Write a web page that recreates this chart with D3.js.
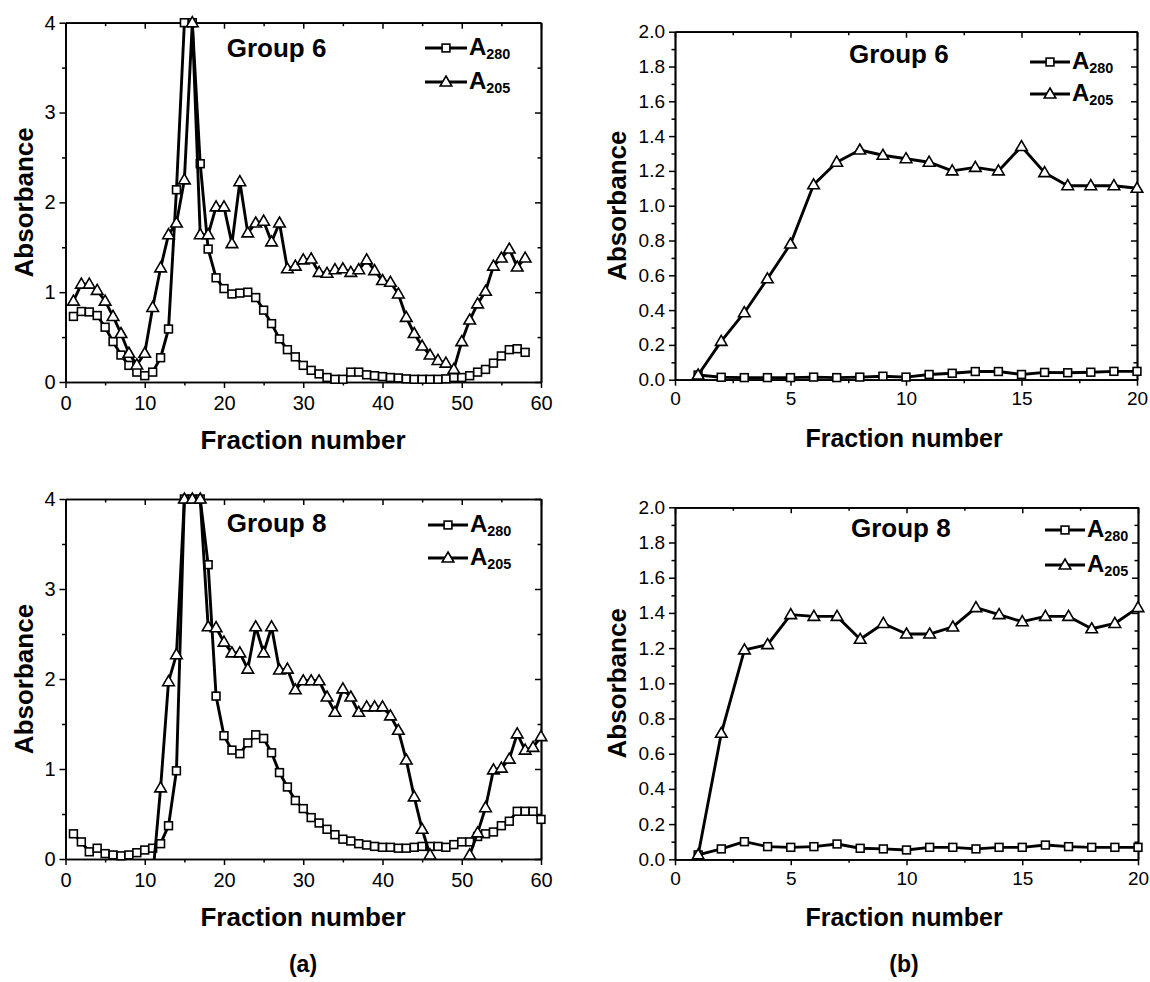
<!DOCTYPE html>
<html>
<head>
<meta charset="utf-8">
<script src="https://cdn.jsdelivr.net/npm/d3@7"></script>
<style>
body{margin:0;background:#fff;}
svg text{font-family:'Liberation Sans',Arial,sans-serif;fill:#000;}
</style>
</head>
<body>
<script>
// fraction numbers
var frac58 = [1,2,3,4,5,6,7,8,9,10,11,12,13,14,15,16,17,18,19,20,21,22,23,24,25,26,27,28,29,30,31,32,33,34,35,36,37,38,39,40,41,42,43,44,45,46,47,48,49,50,51,52,53,54,55,56,57,58];
var frac60 = [1,2,3,4,5,6,7,8,9,10,11,12,13,14,15,16,17,18,19,20,21,22,23,24,25,26,27,28,29,30,31,32,33,34,35,36,37,38,39,40,41,42,43,44,45,46,47,48,49,50,51,52,53,54,55,56,57,58,59,60];
var frac20 = [1,2,3,4,5,6,7,8,9,10,11,12,13,14,15,16,17,18,19,20];

// (a) group 6
var a6_280 = [0.73,0.785,0.78,0.74,0.61,0.45,0.30,0.185,0.11,0.07,0.11,0.27,0.59,2.14,4.0,4.0,2.43,1.48,1.16,1.04,0.98,0.99,1.0,0.94,0.80,0.65,0.48,0.36,0.28,0.185,0.13,0.09,0.05,0.03,0.03,0.11,0.11,0.08,0.07,0.06,0.05,0.045,0.035,0.03,0.03,0.03,0.03,0.035,0.05,0.05,0.07,0.11,0.14,0.21,0.29,0.36,0.37,0.33];
var a6_205 = [0.90,1.09,1.09,1.02,0.90,0.73,0.54,0.32,0.19,0.32,0.83,1.27,1.64,1.77,2.25,4.0,1.64,1.64,1.95,1.95,1.54,2.23,1.66,1.77,1.79,1.56,1.77,1.26,1.29,1.36,1.37,1.22,1.21,1.25,1.26,1.22,1.25,1.36,1.24,1.13,1.11,0.98,0.72,0.54,0.40,0.30,0.24,0.21,0.14,0.45,0.69,0.87,1.01,1.29,1.38,1.48,1.28,1.38];

// (a) group 8
var a8_280 = [0.28,0.19,0.08,0.12,0.06,0.045,0.035,0.045,0.07,0.10,0.12,0.17,0.37,0.98,4.0,4.0,4.0,3.27,1.81,1.37,1.21,1.17,1.29,1.38,1.34,1.18,0.96,0.80,0.65,0.56,0.46,0.40,0.33,0.27,0.22,0.20,0.17,0.155,0.14,0.13,0.13,0.12,0.12,0.13,0.14,0.14,0.14,0.13,0.16,0.19,0.19,0.25,0.28,0.30,0.37,0.42,0.53,0.53,0.53,0.44];
var a8_205 = [null,null,null,null,null,null,null,null,null,null,-0.2,0.79,1.97,2.27,4.0,4.0,4.0,2.58,2.57,2.41,2.29,2.29,2.11,2.58,2.29,2.58,2.10,2.11,1.88,1.98,1.98,1.98,1.80,1.63,1.89,1.80,1.63,1.69,1.69,1.69,1.59,1.43,1.10,0.69,0.33,0.045,null,null,null,null,0.045,0.29,0.57,0.99,1.01,1.11,1.39,1.21,1.24,1.36];

// (b) group 6
var b6_280 = [0.027,0.014,0.012,0.012,0.012,0.015,0.012,0.015,0.02,0.015,0.03,0.037,0.047,0.047,0.03,0.042,0.04,0.043,0.048,0.048];
var b6_205 = [0.027,0.22,0.385,0.58,0.78,1.12,1.25,1.32,1.29,1.27,1.25,1.20,1.22,1.20,1.34,1.19,1.115,1.115,1.115,1.10];

// (b) group 8
var b8_280 = [0.025,0.059,0.10,0.072,0.068,0.072,0.087,0.0625,0.059,0.053,0.068,0.068,0.059,0.068,0.068,0.081,0.072,0.068,0.068,0.068];
var b8_205 = [0.025,0.716,1.19,1.22,1.39,1.38,1.38,1.25,1.34,1.28,1.28,1.32,1.43,1.39,1.35,1.38,1.38,1.31,1.34,1.43];

// ticks
var ticksA_x = [0,10,20,30,40,50,60], minorA_x = [5,15,25,35,45,55];
var ticksA_y = [0,1,2,3,4], minorA_y = [0.5,1.5,2.5,3.5];
var ticksB_x = [0,5,10,15,20], minorB_x = [2.5,7.5,12.5,17.5];
var ticksB_y = [0,0.2,0.4,0.6,0.8,1.0,1.2,1.4,1.6,1.8,2.0], minorB_y = [0.1,0.3,0.5,0.7,0.9,1.1,1.3,1.5,1.7,1.9];

var svg = d3.select('body').append('svg').attr('width',1150).attr('height',982);
var clipN = 0;

function marker(sel, sym){
	if(sym=='sq') sel.append('rect').attr('x',-3.9).attr('y',-3.9).attr('width',7.8).attr('height',7.8);
	else sel.append('path').attr('d','M0,-6L5.8,4L-5.8,4Z');
	sel.attr('fill','#fff').attr('stroke','#000').attr('stroke-width',1.6);
}

function draw(p){
	var x = d3.scaleLinear().domain(p.xd).range([p.left,p.right]);
	var y = d3.scaleLinear().domain(p.yd).range([p.bottom,p.top]);
	var g = svg.append('g');
	var fmt = p.fmt;

	function axis(gen, vals, size, labels, pad, tr){
		var a = gen.tickValues(vals).tickSizeInner(size).tickSizeOuter(0).tickPadding(pad);
		a.tickFormat(labels ? fmt : '');
		var ag = g.append('g').attr('transform',tr).call(a);
		ag.select('.domain').attr('stroke','#000').attr('stroke-width',1.7);
		ag.selectAll('.tick line').attr('stroke','#000').attr('stroke-width',1.5);
		ag.selectAll('text').style('font-size',p.tickFont+'px').attr('fill','#000');
		return ag;
	}
	axis(d3.axisBottom(x), p.xt, 6, true, p.xpad, 'translate(0,'+p.bottom+')');
	axis(d3.axisBottom(x), p.xm, 3.5, false, 0, 'translate(0,'+p.bottom+')');
	axis(d3.axisTop(x), p.xt, -6, false, 0, 'translate(0,'+p.top+')');
	axis(d3.axisTop(x), p.xm, -3.5, false, 0, 'translate(0,'+p.top+')');
	var yl = axis(d3.axisLeft(y), p.yt, 6, true, p.ypad, 'translate('+p.left+',0)');
	yl.selectAll('text').text(function(d){return p.yfmt(d);});
	axis(d3.axisLeft(y), p.ym, 3.5, false, 0, 'translate('+p.left+',0)');
	axis(d3.axisRight(y), p.yt, -6, false, 0, 'translate('+p.right+',0)');
	axis(d3.axisRight(y), p.ym, -3.5, false, 0, 'translate('+p.right+',0)');

	var cid = 'clip'+(clipN++);
	g.append('clipPath').attr('id',cid).append('rect')
		.attr('x',p.left).attr('y',p.top-2).attr('width',p.right-p.left+2).attr('height',p.bottom-p.top+2);

	var line = d3.line().defined(function(d){return d[1]!=null;})
		.x(function(d){return x(d[0]);}).y(function(d){return y(d[1]);});

	p.series.forEach(function(s){
		var pts = s.fr.map(function(f,i){return [f,s.v[i]];});
		g.append('path').attr('d',line(pts)).attr('fill','none').attr('stroke','#000')
			.attr('stroke-width',2.9).attr('stroke-linejoin','round').attr('clip-path','url(#'+cid+')');
		g.selectAll(null).data(pts.filter(function(d){return d[1]!=null && d[1]>=0;})).enter()
			.append('g').attr('transform',function(d){return 'translate('+x(d[0])+','+y(d[1])+')';})
			.each(function(){marker(d3.select(this),s.sym);});
	});

	// group label
	g.append('text').attr('x',p.gx).attr('y',p.gy).style('font-size','26px').style('font-weight','bold').text(p.group);

	// legend
	p.series.forEach(function(s,i){
		var ly = p.ly[i];
		g.append('line').attr('x1',p.lx1).attr('x2',p.lx2).attr('y1',ly).attr('y2',ly)
			.attr('stroke','#000').attr('stroke-width',2.9);
		marker(g.append('g').attr('transform','translate('+((p.lx1+p.lx2)/2)+','+ly+')'),s.sym);
		var t = g.append('text').attr('x',p.lx2+2).attr('y',ly+7).style('font-weight','bold');
		t.append('tspan').style('font-size',p.legFont+'px').text('A');
		t.append('tspan').style('font-size',(p.legFont*0.6)+'px').attr('dy',4).text(s.name);
	});

	// axis titles
	g.append('text').attr('transform','translate('+p.ax+','+((p.top+p.bottom)/2)+') rotate(-90)')
		.attr('text-anchor','middle').style('font-size','26px').style('font-weight','bold').text('Absorbance');
	g.append('text').attr('x',p.fx).attr('y',p.bottom+67)
		.attr('text-anchor','middle').style('font-size',p.fFont+'px').style('font-weight','bold').text('Fraction number');
}

var fa = d3.format('d'), fb = d3.format('.1f');

draw({xd:[0,60],yd:[0,4],left:65.5,right:541,top:22.7,bottom:382,xt:ticksA_x,xm:minorA_x,yt:ticksA_y,ym:minorA_y,
	fmt:fa,yfmt:fa,tickFont:20,xpad:8,ypad:4,group:'Group 6',gx:226.7,gy:56.7,lx1:425,lx2:467,ly:[48,82],legFont:24,
	ax:33,fx:303,fFont:26,
	series:[{fr:frac58,v:a6_280,sym:'sq',name:'280'},{fr:frac58,v:a6_205,sym:'tri',name:'205'}]});

draw({xd:[0,60],yd:[0,4],left:65.5,right:541,top:499,bottom:859,xt:ticksA_x,xm:minorA_x,yt:ticksA_y,ym:minorA_y,
	fmt:fa,yfmt:fa,tickFont:20,xpad:8,ypad:4,group:'Group 8',gx:226.7,gy:531.7,lx1:428,lx2:468,ly:[525,558],legFont:24,
	ax:33,fx:303,fFont:26,
	series:[{fr:frac60,v:a8_280,sym:'sq',name:'280'},{fr:frac60,v:a8_205,sym:'tri',name:'205'}]});

draw({xd:[0,20],yd:[0,2],left:675,right:1137,top:31.7,bottom:379.7,xt:ticksB_x,xm:minorB_x,yt:ticksB_y,ym:minorB_y,
	fmt:fa,yfmt:fb,tickFont:19,xpad:6,ypad:4,group:'Group 6',gx:849,gy:63,lx1:1030,lx2:1070,ly:[62,94],legFont:24,
	ax:626,fx:904,fFont:25,
	series:[{fr:frac20,v:b6_280,sym:'sq',name:'280'},{fr:frac20,v:b6_205,sym:'tri',name:'205'}]});

draw({xd:[0,20],yd:[0,2],left:675,right:1138,top:507.3,bottom:859.3,xt:ticksB_x,xm:minorB_x,yt:ticksB_y,ym:minorB_y,
	fmt:fa,yfmt:fb,tickFont:19,xpad:6,ypad:4,group:'Group 8',gx:851,gy:536.7,lx1:1045,lx2:1085,ly:[530,565],legFont:24,
	ax:626,fx:904,fFont:25,
	series:[{fr:frac20,v:b8_280,sym:'sq',name:'280'},{fr:frac20,v:b8_205,sym:'tri',name:'205'}]});

svg.append('text').attr('x',303).attr('y',972).attr('text-anchor','middle').style('font-size','23px').style('font-weight','bold').text('(a)');
svg.append('text').attr('x',904).attr('y',972).attr('text-anchor','middle').style('font-size','23px').style('font-weight','bold').text('(b)');
</script>
</body>
</html>
